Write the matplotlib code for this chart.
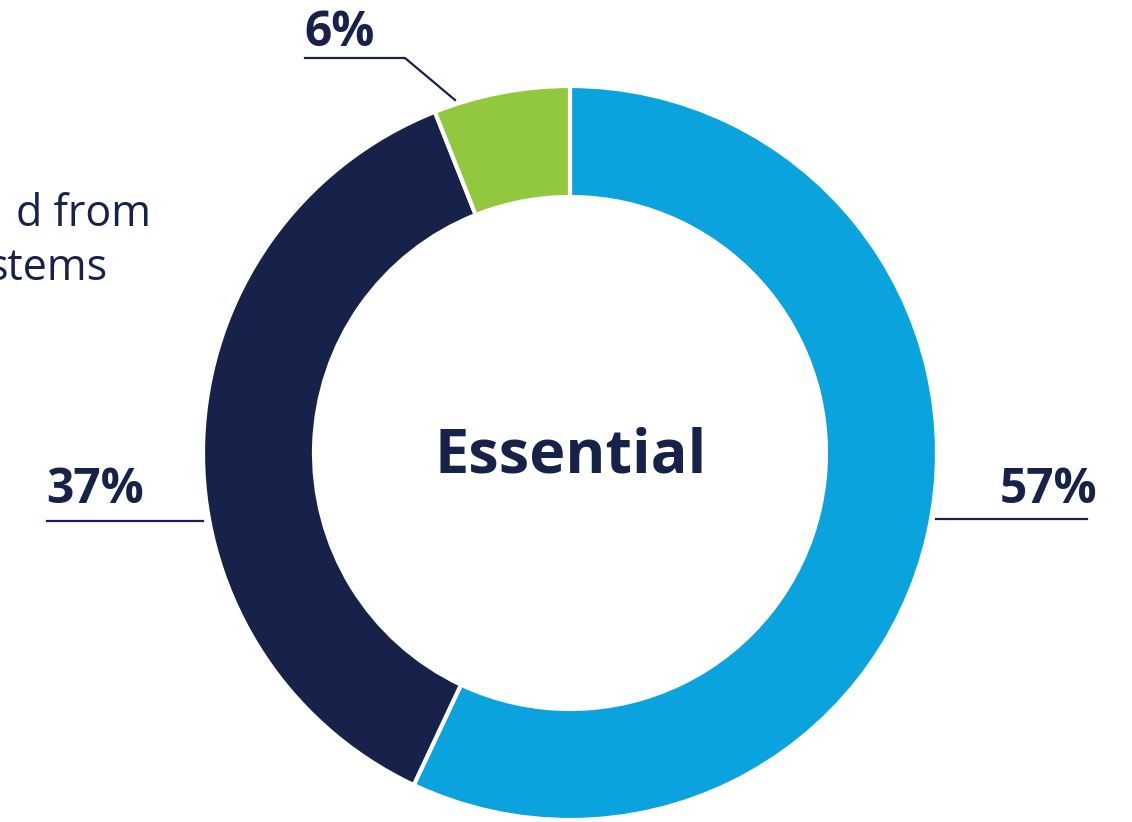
import matplotlib.pyplot as plt

# share of each group, drawn clockwise from 12 o'clock
shares = [57, 37, 6]
labels = ["57%", "37%", "6%"]
colors = ["#0ba3dd", "#16224a", "#92c83e"]
center_text = "Essential"
side_text = ["d from", "stems"]

navy = "#16224a"
W, H = 1132, 822

fig = plt.figure(figsize=(W / 100, H / 100), dpi=100)
ax = fig.add_axes([0, 0, 1, 1])

cx, cy, r = 570, H - 453, 367
ax.pie(shares, colors=colors, startangle=90, counterclock=False,
       center=(cx, cy), radius=r, frame=True,
       wedgeprops=dict(width=111, edgecolor="white", linewidth=3))
ax.set_xlim(0, W)
ax.set_ylim(0, H)
ax.set_aspect("equal")
ax.axis("off")

font = "Open Sans"
ax.text(cx + 1, cy - 4, center_text, ha="center", va="center", fontsize=44,
        fontweight="bold", color=navy, family=font)

# value labels with leader lines
lw = 1.6
ax.text(1097, H - 503, labels[0], ha="right", va="baseline", fontsize=34.5,
        fontweight="bold", color=navy, family=font)
ax.plot([936, 1087], [H - 519, H - 519], color=navy, lw=lw)

ax.text(46, H - 503, labels[1], ha="left", va="baseline", fontsize=34.5,
        fontweight="bold", color=navy, family=font)
ax.plot([47, 203], [H - 521, H - 521], color=navy, lw=lw)

ax.text(304, H - 46, labels[2], ha="left", va="baseline", fontsize=34.5,
        fontweight="bold", color=navy, family=font)
ax.plot([305, 405, 455], [H - 58, H - 58, H - 100], color=navy, lw=lw)

ax.text(151, H - 226, side_text[0], ha="right", va="baseline", fontsize=31,
        color=navy, family=font)
ax.text(108, H - 280, side_text[1], ha="right", va="baseline", fontsize=31,
        color=navy, family=font)

fig.savefig("out.png", dpi=100, facecolor="white")
